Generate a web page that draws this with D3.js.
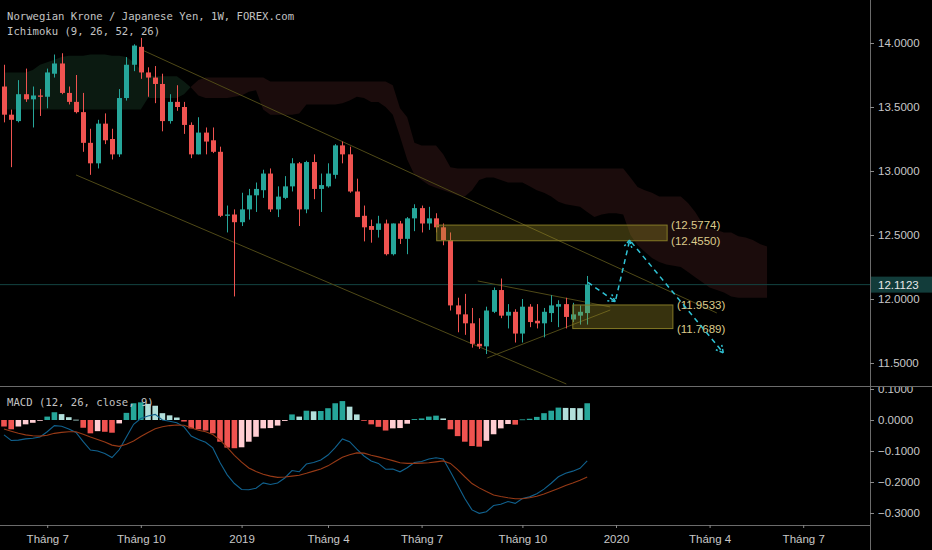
<!DOCTYPE html>
<html>
<head>
<meta charset="utf-8">
<script src="https://cdn.jsdelivr.net/npm/d3@7/dist/d3.min.js"></script>
<style>
html, body { margin: 0; padding: 0; background: #000; overflow: hidden; }
svg { display: block; }
</style>
</head>
<body>
<div id="chart"></div>
<script>
// weekly NOK/JPY candles, bar 0 = week of 21 May 2018
const open  = [13.66,13.44,13.39,13.60,13.56,13.59,13.58,13.76,13.84,13.61,13.54,13.46,13.22,13.06,13.37,13.25,13.13,13.57,13.83,13.97,13.77,13.73,13.68,13.39,13.54,13.50,13.36,13.13,13.30,13.24,13.15,12.65,12.66,12.60,12.70,12.81,12.85,12.98,12.70,12.79,12.88,13.06,12.70,13.07,12.86,12.88,12.97,13.20,13.13,12.84,12.65,12.57,12.54,12.59,12.35,12.59,12.47,12.63,12.71,12.59,12.63,12.56,12.46,11.95,11.88,11.81,11.65,11.63,11.90,12.07,11.87,11.90,11.73,11.94,11.83,11.81,11.89,11.94,11.96,11.84,11.87,11.89];
const high  = [13.83,13.48,13.71,13.80,13.66,13.64,13.80,13.91,13.92,13.66,13.75,13.61,13.33,13.40,13.45,13.33,13.64,13.89,13.99,14.04,13.81,13.82,13.76,13.60,13.67,13.54,13.38,13.42,13.34,13.34,13.19,12.73,12.70,12.83,12.86,12.91,13.01,13.02,12.88,12.96,13.10,13.07,13.08,13.13,12.98,13.06,13.21,13.23,13.19,12.94,12.73,12.62,12.65,12.62,12.59,12.61,12.64,12.74,12.73,12.72,12.67,12.59,12.52,12.01,12.04,11.93,11.85,11.94,12.09,12.16,11.96,11.92,12.00,11.96,11.96,11.93,12.03,11.99,12.01,11.97,11.95,12.18];
const low   = [13.38,13.03,13.38,13.54,13.34,13.43,13.49,13.73,13.60,13.52,13.45,13.15,12.97,13.02,13.21,13.09,13.11,13.55,13.78,13.72,13.58,13.53,13.31,13.37,13.47,13.29,13.10,13.13,13.13,13.14,12.64,12.52,12.02,12.57,12.62,12.68,12.79,12.68,12.64,12.78,12.84,12.57,12.67,12.78,12.68,12.87,12.94,13.06,12.83,12.64,12.45,12.44,12.48,12.34,12.34,12.43,12.35,12.53,12.52,12.54,12.52,12.42,11.91,11.74,11.72,11.62,11.61,11.57,11.89,11.85,11.77,11.66,11.66,11.78,11.77,11.70,11.82,11.78,11.77,11.82,11.80,11.80];
const close = [13.44,13.40,13.60,13.56,13.59,13.58,13.77,13.84,13.61,13.54,13.46,13.22,13.06,13.37,13.24,13.13,13.57,13.83,13.98,13.77,13.73,13.68,13.39,13.54,13.50,13.36,13.13,13.30,13.23,13.15,12.65,12.66,12.60,12.70,12.81,12.86,12.98,12.70,12.80,12.88,13.06,12.70,13.07,12.86,12.89,12.98,13.20,13.13,12.84,12.64,12.56,12.54,12.59,12.35,12.59,12.47,12.63,12.71,12.59,12.63,12.56,12.46,11.95,11.88,11.81,11.65,11.63,11.91,12.07,11.87,11.90,11.73,11.94,11.82,11.81,11.90,11.95,11.96,11.86,11.88,11.90,12.1123];

// Ichimoku leading spans (already shifted forward), bars 0..106
const spanA = [13.77,13.77,13.77,13.77,13.79,13.83,13.85,13.87,13.89,13.90,13.90,13.90,13.91,13.91,13.91,13.90,13.90,13.89,13.85,13.79,13.75,13.74,13.74,13.74,13.74,13.70,13.65,13.59,13.57,13.57,13.57,13.57,13.58,13.59,13.62,13.63,13.48,13.44,13.44,13.44,13.44,13.45,13.52,13.52,13.52,13.52,13.52,13.53,13.55,13.58,13.57,13.54,13.54,13.50,13.44,13.27,13.09,12.97,12.93,12.89,12.87,12.85,12.83,12.81,12.80,12.85,12.93,12.95,12.95,12.93,12.91,12.91,12.91,12.88,12.85,12.83,12.80,12.76,12.74,12.73,12.72,12.68,12.64,12.66,12.67,12.67,12.66,12.50,12.42,12.37,12.32,12.29,12.27,12.26,12.25,12.21,12.17,12.13,12.09,12.07,12.05,12.02,12.01,12.01,12.01,12.01,12.01];
const spanB = [13.48,13.48,13.48,13.48,13.48,13.48,13.48,13.48,13.48,13.48,13.48,13.48,13.48,13.48,13.48,13.48,13.48,13.48,13.48,13.48,13.57,13.57,13.57,13.57,13.57,13.60,13.66,13.71,13.73,13.73,13.73,13.73,13.73,13.73,13.73,13.73,13.73,13.70,13.70,13.70,13.70,13.70,13.70,13.70,13.70,13.70,13.70,13.70,13.70,13.70,13.70,13.70,13.70,13.70,13.67,13.49,13.42,13.22,13.20,13.20,13.20,13.13,13.03,13.02,13.02,13.02,13.02,13.02,13.02,13.02,13.02,13.02,13.02,13.02,13.02,13.02,13.02,13.02,13.02,13.02,13.02,13.02,13.02,13.02,13.02,13.02,13.02,12.95,12.875,12.85,12.83,12.80,12.80,12.80,12.80,12.75,12.68,12.59,12.55,12.54,12.52,12.52,12.49,12.48,12.46,12.43,12.41];

// MACD (12, 26, close, 9)
const macdLine = [-0.048,-0.066,-0.065,-0.061,-0.059,-0.055,-0.038,-0.018,-0.020,-0.029,-0.040,-0.070,-0.097,-0.100,-0.108,-0.121,-0.096,-0.055,-0.014,0.005,0.013,0.018,0.000,-0.004,-0.009,-0.022,-0.052,-0.063,-0.072,-0.090,-0.137,-0.177,-0.205,-0.224,-0.225,-0.220,-0.203,-0.208,-0.203,-0.187,-0.163,-0.167,-0.142,-0.137,-0.129,-0.113,-0.089,-0.061,-0.070,-0.094,-0.116,-0.132,-0.140,-0.159,-0.158,-0.167,-0.154,-0.137,-0.134,-0.126,-0.122,-0.126,-0.167,-0.210,-0.253,-0.290,-0.301,-0.296,-0.276,-0.272,-0.263,-0.269,-0.253,-0.248,-0.238,-0.223,-0.204,-0.183,-0.172,-0.165,-0.156,-0.132];
const signalLine = [-0.029,-0.036,-0.043,-0.048,-0.051,-0.052,-0.049,-0.043,-0.040,-0.038,-0.038,-0.046,-0.055,-0.063,-0.071,-0.081,-0.085,-0.078,-0.068,-0.053,-0.040,-0.028,-0.022,-0.018,-0.016,-0.017,-0.025,-0.033,-0.038,-0.047,-0.065,-0.088,-0.114,-0.136,-0.155,-0.166,-0.175,-0.181,-0.185,-0.184,-0.181,-0.178,-0.172,-0.165,-0.158,-0.148,-0.134,-0.120,-0.112,-0.106,-0.107,-0.114,-0.119,-0.125,-0.131,-0.138,-0.140,-0.140,-0.139,-0.138,-0.135,-0.132,-0.140,-0.160,-0.183,-0.205,-0.219,-0.231,-0.242,-0.247,-0.251,-0.254,-0.254,-0.251,-0.246,-0.239,-0.230,-0.221,-0.211,-0.203,-0.194,-0.184];
const histogram = [-0.021,-0.030,-0.021,-0.014,-0.009,-0.002,0.011,0.025,0.019,0.009,0.001,-0.025,-0.043,-0.036,-0.038,-0.041,-0.011,0.023,0.054,0.057,0.052,0.046,0.022,0.015,0.008,-0.005,-0.027,-0.030,-0.034,-0.043,-0.070,-0.089,-0.091,-0.088,-0.070,-0.054,-0.027,-0.026,-0.018,-0.003,0.018,0.011,0.030,0.028,0.029,0.038,0.054,0.061,0.043,0.018,-0.002,-0.014,-0.022,-0.034,-0.027,-0.026,-0.012,0.003,0.005,0.011,0.014,0.005,-0.030,-0.052,-0.070,-0.084,-0.086,-0.067,-0.046,-0.027,-0.013,-0.015,0.002,0.004,0.010,0.022,0.030,0.040,0.039,0.0385,0.038,0.054];

// axis ticks
const priceTicks = [14, 13.5, 13, 12.5, 12, 11.5];
const macdTicks = [0.1, 0, -0.1, -0.2, -0.3];
const timeTickBars = [6, 19, 33, 45, 58, 72, 85, 98, 111];
const timeTickLabels = ["Tháng 7", "Tháng 10", "2019", "Tháng 4", "Tháng 7", "Tháng 10", "2020", "Tháng 4", "Tháng 7"];

// user drawings, in (bar, price)
const trendLines = [
    [18.9, 13.953, 99.0, 11.891],   // kênh trên
    [10.0, 12.969, 78.1, 11.336],   // kênh dưới
    [65.8, 12.141, 84.2, 11.938],   // tam giác trên
    [67.1, 11.539, 84.2, 11.914]    // tam giác dưới
];
const zones = [
    [60.1, 92.1, 12.5774, 12.4550],
    [79.0, 92.9, 11.9533, 11.7689]
];
const forecastBars   = [81.1, 84.9, 86.9, 99.9];
const forecastPrices = [12.13, 11.98, 12.46, 11.58];

const W = 932, H = 550;
const axisX = 870, paneBottom = 386, macdBottom = 525;

const x  = d3.scaleLinear().domain([0, 120]).range([4, 868]);
const y  = d3.scaleLinear().domain([11.5, 14]).range([363, 43]);
const ym = d3.scaleLinear().domain([-0.3, 0.1]).range([513, 389]);

const svg = d3.select("#chart").append("svg")
    .attr("width", W)
    .attr("height", H)
    .style("background", "#000");

const defs = svg.append("defs");
defs.append("clipPath").attr("id", "clipMain")
    .append("rect").attr("x", 0).attr("y", 0).attr("width", axisX).attr("height", paneBottom);
defs.append("clipPath").attr("id", "clipMacd")
    .append("rect").attr("x", 0).attr("y", paneBottom + 1).attr("width", axisX).attr("height", macdBottom - paneBottom - 1);
defs.append("clipPath").attr("id", "clipMacdAxis")
    .append("rect").attr("x", axisX).attr("y", paneBottom + 1).attr("width", W - axisX).attr("height", macdBottom - paneBottom - 1);

// ---- Ichimoku cloud (difference chart trick) ----
const spanIdx = d3.range(spanA.length);
defs.append("clipPath").attr("id", "belowA")
    .append("path")
    .attr("d", d3.area().x(i => x(i)).y0(paneBottom).y1(i => y(spanA[i]))(spanIdx));
defs.append("clipPath").attr("id", "aboveA")
    .append("path")
    .attr("d", d3.area().x(i => x(i)).y0(0).y1(i => y(spanA[i]))(spanIdx));

const main = svg.append("g").attr("clip-path", "url(#clipMain)");

main.append("g").attr("clip-path", "url(#belowA)")
    .append("path")
    .attr("fill", "#0b1a11")
    .attr("d", d3.area().x(i => x(i)).y0(0).y1(i => y(spanB[i]))(spanIdx));
main.append("g").attr("clip-path", "url(#aboveA)")
    .append("path")
    .attr("fill", "#1b0c0c")
    .attr("d", d3.area().x(i => x(i)).y0(paneBottom).y1(i => y(spanB[i]))(spanIdx));

// ---- last price line ----
const lastClose = close[close.length - 1];
main.append("line")
    .attr("x1", 0).attr("x2", axisX)
    .attr("y1", y(lastClose)).attr("y2", y(lastClose))
    .attr("stroke", "#134442")
    .attr("stroke-width", 1);

// ---- trend lines ----
main.selectAll(".trend")
    .data(trendLines)
    .enter()
    .append("line")
    .attr("class", "trend")
    .attr("x1", d => x(d[0])).attr("y1", d => y(d[1]))
    .attr("x2", d => x(d[2])).attr("y2", d => y(d[3]))
    .attr("stroke", "#4f4917")
    .attr("stroke-width", 1);

// ---- candles ----
const bars = d3.range(open.length);
const up = i => close[i] >= open[i];
const candle = main.selectAll(".candle")
    .data(bars)
    .enter()
    .append("g")
    .attr("class", "candle");

candle.append("line")
    .attr("x1", i => Math.round(x(i)) + 0.5)
    .attr("x2", i => Math.round(x(i)) + 0.5)
    .attr("y1", i => y(high[i]))
    .attr("y2", i => y(low[i]))
    .attr("stroke", i => up(i) ? "#26a69a" : "#ef5350")
    .attr("stroke-width", 1);

candle.append("rect")
    .attr("x", i => Math.round(x(i)) - 2)
    .attr("width", 5)
    .attr("y", i => y(Math.max(open[i], close[i])))
    .attr("height", i => Math.max(1, Math.abs(y(open[i]) - y(close[i]))))
    .attr("fill", i => up(i) ? "#26a69a" : "#ef5350");

// ---- zones ----
main.selectAll(".zone")
    .data(zones)
    .enter()
    .append("rect")
    .attr("class", "zone")
    .attr("x", d => x(d[0]))
    .attr("width", d => x(d[1]) - x(d[0]))
    .attr("y", d => y(d[2]))
    .attr("height", d => y(d[3]) - y(d[2]))
    .attr("fill", "rgba(160,148,40,0.34)")
    .attr("stroke", "#857a26")
    .attr("stroke-width", 1);

const zoneLabels = [];
zones.forEach(z => {
    zoneLabels.push({ bar: z[1], price: z[2] });
    zoneLabels.push({ bar: z[1], price: z[3] });
});
main.selectAll(".zlabel")
    .data(zoneLabels)
    .enter()
    .append("text")
    .attr("class", "zlabel")
    .attr("x", d => x(d.bar) + 4)
    .attr("y", d => y(d.price))
    .attr("dy", "0.35em")
    .attr("fill", "#dccb8b")
    .style("font", "11.5px 'Liberation Sans', Arial, sans-serif")
    .text(d => "(" + d3.format(".4f")(d.price) + ")");

// ---- forecast path (dashed, with arrow heads) ----
const fPts = forecastBars.map((b, i) => [x(b), y(forecastPrices[i])]);
main.append("path")
    .attr("d", d3.line()(fPts))
    .attr("fill", "none")
    .attr("stroke", "#2fc2d4")
    .attr("stroke-width", 1.5)
    .attr("stroke-dasharray", "5,4");

for (let i = 1; i < fPts.length; i++) {
    const [x0, y0] = fPts[i - 1];
    const [x1, y1] = fPts[i];
    const ang = Math.atan2(y1 - y0, x1 - x0);
    [-0.5, 0.5].forEach(da => {
        const a = ang + Math.PI + da;
        main.append("line")
            .attr("x1", x1).attr("y1", y1)
            .attr("x2", x1 + 8 * Math.cos(a)).attr("y2", y1 + 8 * Math.sin(a))
            .attr("stroke", "#2fc2d4")
            .attr("stroke-width", 1.5)
            .attr("stroke-dasharray", "4,2");
    });
}

// ---- MACD pane ----
const macd = svg.append("g").attr("clip-path", "url(#clipMacd)");

function histColor(i) {
    const v = histogram[i];
    const rising = i > 0 && histogram[i - 1] < v;
    if (v >= 0) return rising ? "#26a69a" : "#b2dfdb";
    return rising ? "#ffcdd2" : "#ef5350";
}

macd.selectAll(".hist")
    .data(bars)
    .enter()
    .append("rect")
    .attr("class", "hist")
    .attr("x", i => x(i) - 2.8)
    .attr("width", 5.6)
    .attr("y", i => Math.min(ym(0), ym(histogram[i])))
    .attr("height", i => Math.max(0.8, Math.abs(ym(histogram[i]) - ym(0))))
    .attr("fill", histColor);

macd.append("path")
    .attr("d", d3.line().x(i => x(i)).y(i => ym(macdLine[i]))(bars))
    .attr("fill", "none")
    .attr("stroke", "#11628f")
    .attr("stroke-width", 1.1);

macd.append("path")
    .attr("d", d3.line().x(i => x(i)).y(i => ym(signalLine[i]))(bars))
    .attr("fill", "none")
    .attr("stroke", "#973a16")
    .attr("stroke-width", 1.1);

// ---- frame lines ----
svg.append("line")
    .attr("x1", 0).attr("x2", W)
    .attr("y1", paneBottom + 0.5).attr("y2", paneBottom + 0.5)
    .attr("stroke", "#6b6b6b");
svg.append("line")
    .attr("x1", 0).attr("x2", axisX)
    .attr("y1", macdBottom + 0.5).attr("y2", macdBottom + 0.5)
    .attr("stroke", "#6b6b6b");
svg.append("line")
    .attr("x1", axisX + 0.5).attr("x2", axisX + 0.5)
    .attr("y1", 0).attr("y2", H)
    .attr("stroke", "#6b6b6b");

// ---- axes ----
const axisFont = "11.5px 'Liberation Sans', Arial, sans-serif";
const fmt4 = d3.format(".4f");

const priceAxis = svg.append("g")
    .attr("transform", `translate(${axisX},0)`)
    .call(d3.axisRight(y).tickValues(priceTicks).tickFormat(fmt4).tickSize(4).tickPadding(4).tickSizeOuter(0));

const macdAxis = svg.append("g")
    .attr("clip-path", "url(#clipMacdAxis)")
    .append("g")
    .attr("transform", `translate(${axisX},0)`)
    .call(d3.axisRight(ym).tickValues(macdTicks).tickFormat(fmt4).tickSize(4).tickPadding(4).tickSizeOuter(0));

const timeAxis = svg.append("g")
    .attr("transform", `translate(0,${macdBottom})`)
    .call(d3.axisBottom(x).tickValues(timeTickBars).tickFormat((d, i) => timeTickLabels[i]).tickSize(3).tickPadding(7).tickSizeOuter(0));

[priceAxis, macdAxis, timeAxis].forEach(g => {
    g.select(".domain").remove();
    g.selectAll(".tick line").attr("stroke", "#8a8a8a");
    g.selectAll(".tick text").attr("fill", "#c8c8c8").style("font", axisFont);
});

// last price tag
const tagY = y(lastClose);
svg.append("rect")
    .attr("x", axisX + 1).attr("y", tagY - 8)
    .attr("width", W - axisX - 1).attr("height", 16)
    .attr("fill", "#123c3a");
svg.append("text")
    .attr("x", axisX + 8).attr("y", tagY)
    .attr("dy", "0.35em")
    .attr("fill", "#e8e8e8")
    .style("font", axisFont)
    .text(fmt4(lastClose));

// ---- titles ----
const monoFont = "10.6px 'DejaVu Sans Mono', monospace";
svg.append("text")
    .attr("x", 7).attr("y", 20)
    .attr("fill", "#c3c3c3")
    .style("font", monoFont)
    .text("Norwegian Krone / Japanese Yen, 1W, FOREX.com");
svg.append("text")
    .attr("x", 7).attr("y", 35)
    .attr("fill", "#c3c3c3")
    .style("font", monoFont)
    .text("Ichimoku (9, 26, 52, 26)");
svg.append("text")
    .attr("x", 7).attr("y", 406)
    .attr("fill", "#c3c3c3")
    .style("font", monoFont)
    .text("MACD (12, 26, close, 9)");
</script>
</body>
</html>
